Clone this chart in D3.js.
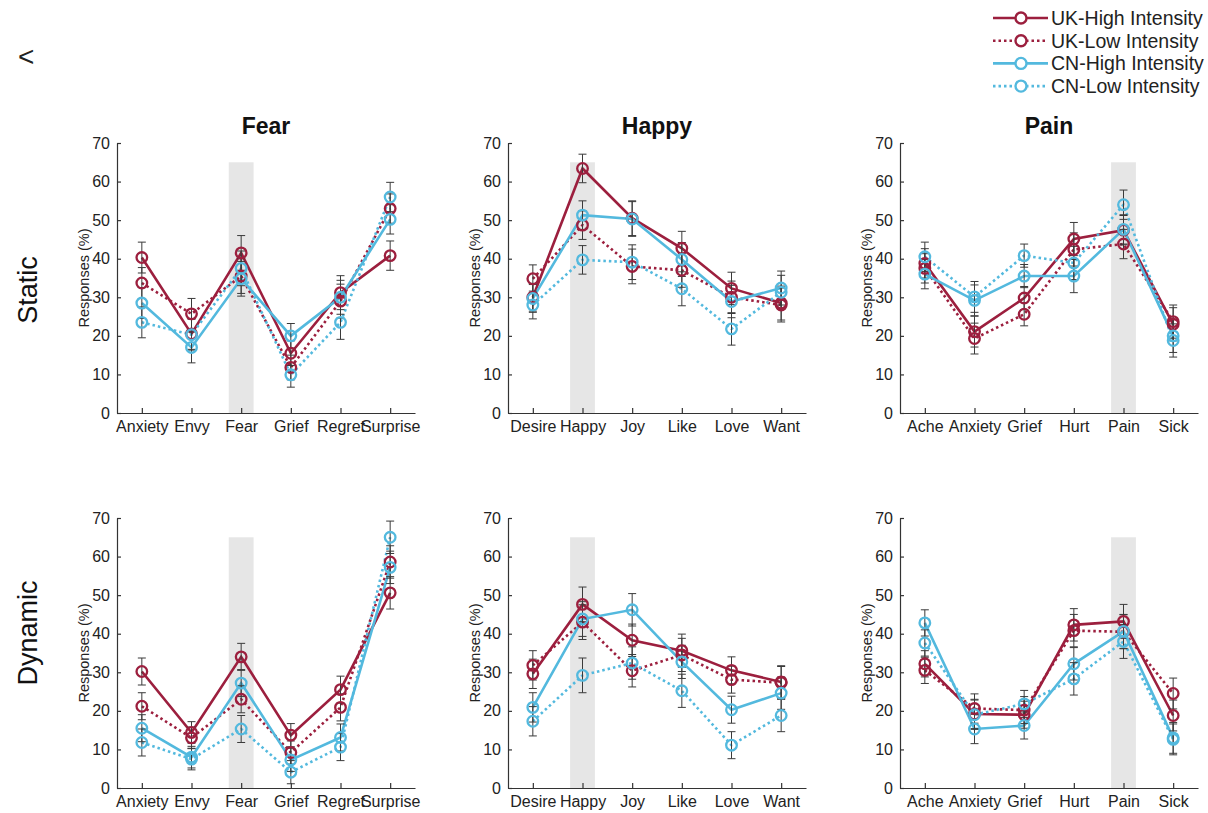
<!DOCTYPE html>
<html>
<head>
<meta charset="utf-8">
<script src="https://cdn.jsdelivr.net/npm/d3@7"></script>
<style>
  html, body { margin: 0; padding: 0; background: #fff; }
  svg text { font-family: "Liberation Sans", Arial, sans-serif; }
</style>
</head>
<body>
<svg id="chart" width="1208" height="813"></svg>
<script>
// ---- categories ----
const fearCats  = ["Anxiety", "Envy", "Fear", "Grief", "Regret", "Surprise"];
const happyCats = ["Desire", "Happy", "Joy", "Like", "Love", "Want"];
const painCats  = ["Ache", "Anxiety", "Grief", "Hurt", "Pain", "Sick"];

const yTicks = [0, 10, 20, 30, 40, 50, 60, 70];
const seriesNames = ["UK-High Intensity", "UK-Low Intensity", "CN-High Intensity", "CN-Low Intensity"];
const rowNames = ["Static", "Dynamic"];
const panelTitles = ["Fear", "Happy", "Pain"];
const bandValue = 65;

// ---- Static: Fear ----
const staticFearUKHigh = [40.3, 20.5, 41.5, 15.5, 31.2, 40.8];
const staticFearUKLow  = [33.7, 25.7, 35.5, 11.8, 29.0, 53.0];
const staticFearCNHigh = [28.5, 17.0, 34.8, 20.0, 30.0, 50.2];
const staticFearCNLow  = [23.5, 20.3, 37.5,  9.9, 23.5, 56.0];
const staticFearErr    = [4.0, 4.0, 4.5, 3.2, 4.4, 3.8];

// ---- Static: Happy ----
const staticHappyUKHigh = [30.0, 63.4, 50.5, 42.7, 32.3, 28.5];
const staticHappyUKLow  = [34.8, 48.7, 38.0, 37.0, 30.0, 28.0];
const staticHappyCNHigh = [29.7, 51.3, 50.3, 39.8, 28.9, 32.4];
const staticHappyCNLow  = [28.0, 39.7, 39.1, 32.2, 21.8, 31.3];
const staticHappyErr    = [3.6, 3.7, 4.5, 4.4, 4.2, 4.4];

// ---- Static: Pain ----
const staticPainUKHigh = [38.8, 21.1, 29.8, 45.1, 47.4, 23.0];
const staticPainUKLow  = [37.5, 19.3, 25.6, 42.4, 43.8, 23.7];
const staticPainCNHigh = [36.0, 29.2, 35.5, 35.5, 47.6, 20.0];
const staticPainCNLow  = [40.5, 30.1, 40.8, 38.9, 54.0, 18.8];
const staticPainErr    = [3.8, 4.0, 3.0, 4.3, 3.8, 4.3];

// ---- Dynamic: Fear ----
const dynamicFearUKHigh = [30.2, 14.4, 34.0, 13.7, 25.5, 50.6];
const dynamicFearUKLow  = [21.2, 13.0, 23.0,  9.2, 20.9, 58.6];
const dynamicFearCNHigh = [15.5,  8.0, 27.2,  7.3, 13.1, 57.2];
const dynamicFearCNLow  = [11.8,  7.5, 15.3,  4.1, 10.6, 65.0];
const dynamicFearErr    = [3.5, 2.8, 3.5, 3.0, 3.5, 4.2];

// ---- Dynamic: Happy ----
const dynamicHappyUKHigh = [29.6, 47.6, 38.3, 35.6, 30.5, 27.5];
const dynamicHappyUKLow  = [31.8, 43.0, 30.4, 34.5, 28.1, 27.3];
const dynamicHappyCNHigh = [20.9, 43.8, 46.2, 32.7, 20.3, 24.6];
const dynamicHappyCNLow  = [17.3, 29.2, 32.4, 25.2, 11.1, 18.8];
const dynamicHappyErr    = [3.8, 4.5, 4.2, 4.3, 3.5, 4.2];

// ---- Dynamic: Pain ----
const dynamicPainUKHigh = [32.2, 19.2, 19.0, 42.3, 43.2, 18.8];
const dynamicPainUKLow  = [30.5, 20.6, 20.2, 40.8, 40.5, 24.5];
const dynamicPainCNHigh = [42.8, 15.3, 16.2, 32.2, 40.6, 13.0];
const dynamicPainCNLow  = [37.6, 19.0, 21.8, 28.3, 38.0, 12.6];
const dynamicPainErr    = [3.4, 3.8, 3.5, 4.2, 4.4, 4.0];

// ---- styling ----
const UK_COLOR = "#9c1f3e";
const CN_COLOR = "#53b9de";
const seriesStyle = [
  { color: UK_COLOR, dash: null },
  { color: UK_COLOR, dash: "2.5,3" },
  { color: CN_COLOR, dash: null },
  { color: CN_COLOR, dash: "2.5,3" }
];

// panel table built from the arrays above
const panels = [
  { row: 0, col: 0, cats: fearCats,  hl: "Fear",  err: staticFearErr,
    series: [staticFearUKHigh, staticFearUKLow, staticFearCNHigh, staticFearCNLow] },
  { row: 0, col: 1, cats: happyCats, hl: "Happy", err: staticHappyErr,
    series: [staticHappyUKHigh, staticHappyUKLow, staticHappyCNHigh, staticHappyCNLow] },
  { row: 0, col: 2, cats: painCats,  hl: "Pain",  err: staticPainErr,
    series: [staticPainUKHigh, staticPainUKLow, staticPainCNHigh, staticPainCNLow] },
  { row: 1, col: 0, cats: fearCats,  hl: "Fear",  err: dynamicFearErr,
    series: [dynamicFearUKHigh, dynamicFearUKLow, dynamicFearCNHigh, dynamicFearCNLow] },
  { row: 1, col: 1, cats: happyCats, hl: "Happy", err: dynamicHappyErr,
    series: [dynamicHappyUKHigh, dynamicHappyUKLow, dynamicHappyCNHigh, dynamicHappyCNLow] },
  { row: 1, col: 2, cats: painCats,  hl: "Pain",  err: dynamicPainErr,
    series: [dynamicPainUKHigh, dynamicPainUKLow, dynamicPainCNHigh, dynamicPainCNLow] }
];

// ---- layout ----
const colLeft = [117, 508, 900];
const rowTop = [143, 518];
const rowLabelY = [290, 633];
const pw = 298, ph = 270;

const svg = d3.select("#chart");

// back arrow glyph in the corner
svg.append("text")
  .attr("x", 18).attr("y", 66)
  .attr("font-size", 28).attr("fill", "#222")
  .text("<");

panels.forEach(p => {
  const g = svg.append("g")
    .attr("transform", `translate(${colLeft[p.col]},${rowTop[p.row]})`);

  const x = d3.scalePoint().domain(p.cats).range([0, pw]).padding(0.5);
  const y = d3.scaleLinear().domain([0, 70]).range([ph, 0]);

  // highlighted target category
  g.append("rect")
    .attr("x", x(p.hl) - x.step() * 0.25)
    .attr("width", x.step() * 0.5)
    .attr("y", y(bandValue))
    .attr("height", y(0) - y(bandValue))
    .attr("fill", "#e6e6e6");

  // axes
  const xAxis = g.append("g")
    .attr("transform", `translate(0,${ph})`)
    .call(d3.axisBottom(x).tickSize(-5).tickSizeOuter(0).tickPadding(8));
  const yAxis = g.append("g")
    .call(d3.axisLeft(y).tickValues(yTicks).tickSize(-4).tickSizeOuter(0).tickPadding(7));
  [xAxis, yAxis].forEach(a => {
    a.selectAll("text").attr("font-size", 16).attr("fill", "#222")
      .attr("font-family", "Liberation Sans, Arial, sans-serif");
    a.selectAll("path, line").attr("stroke", "#333").attr("stroke-width", 1.2);
  });

  g.append("text")
    .attr("transform", `translate(-28,${ph / 2}) rotate(-90)`)
    .attr("text-anchor", "middle")
    .attr("font-size", 14.5).attr("fill", "#222")
    .text("Responses (%)");

  if (p.row === 0) {
    g.append("text")
      .attr("x", pw / 2).attr("y", -9)
      .attr("text-anchor", "middle")
      .attr("font-weight", "bold").attr("font-size", 23).attr("fill", "#111")
      .text(panelTitles[p.col]);
  }

  const line = d3.line()
    .x((d, i) => x(p.cats[i]))
    .y(d => y(d));

  // connecting lines
  p.series.forEach((vals, s) => {
    g.append("path")
      .datum(vals)
      .attr("d", line)
      .attr("fill", "none")
      .attr("stroke", seriesStyle[s].color)
      .attr("stroke-width", 2.6)
      .attr("stroke-dasharray", seriesStyle[s].dash);
  });

  // error bars
  p.series.forEach(vals => {
    vals.forEach((v, i) => {
      const cx = x(p.cats[i]);
      const e = p.err[i];
      const eb = g.append("g").attr("stroke", "#3a3a3a").attr("stroke-width", 1);
      eb.append("line").attr("x1", cx).attr("x2", cx).attr("y1", y(v - e)).attr("y2", y(v + e));
      eb.append("line").attr("x1", cx - 4).attr("x2", cx + 4).attr("y1", y(v - e)).attr("y2", y(v - e));
      eb.append("line").attr("x1", cx - 4).attr("x2", cx + 4).attr("y1", y(v + e)).attr("y2", y(v + e));
    });
  });

  // markers
  p.series.forEach((vals, s) => {
    g.selectAll(null)
      .data(vals)
      .join("circle")
      .attr("cx", (d, i) => x(p.cats[i]))
      .attr("cy", d => y(d))
      .attr("r", 5.3)
      .attr("fill", "none")
      .attr("stroke", seriesStyle[s].color)
      .attr("stroke-width", 2.3);
  });
});

// row labels
rowNames.forEach((name, r) => {
  svg.append("text")
    .attr("transform", `translate(37,${rowLabelY[r]}) rotate(-90)`)
    .attr("text-anchor", "middle")
    .attr("font-family", "Open Sans, sans-serif")
    .attr("font-size", 27).attr("fill", "#111")
    .text(name);
});

// legend
const legend = svg.append("g").attr("transform", "translate(993,18)");
seriesNames.forEach((name, s) => {
  const row = legend.append("g").attr("transform", `translate(0,${s * 22.7})`);
  row.append("line")
    .attr("x1", 0).attr("x2", 55).attr("y1", 0).attr("y2", 0)
    .attr("stroke", seriesStyle[s].color).attr("stroke-width", 2.6)
    .attr("stroke-dasharray", seriesStyle[s].dash);
  row.append("circle")
    .attr("cx", 28).attr("cy", 0).attr("r", 5.5)
    .attr("fill", "#fff")
    .attr("stroke", seriesStyle[s].color).attr("stroke-width", 2.4);
  row.append("text")
    .attr("x", 58).attr("y", 7)
    .attr("font-size", 19.5).attr("fill", "#222")
    .text(name);
});
</script>
</body>
</html>
